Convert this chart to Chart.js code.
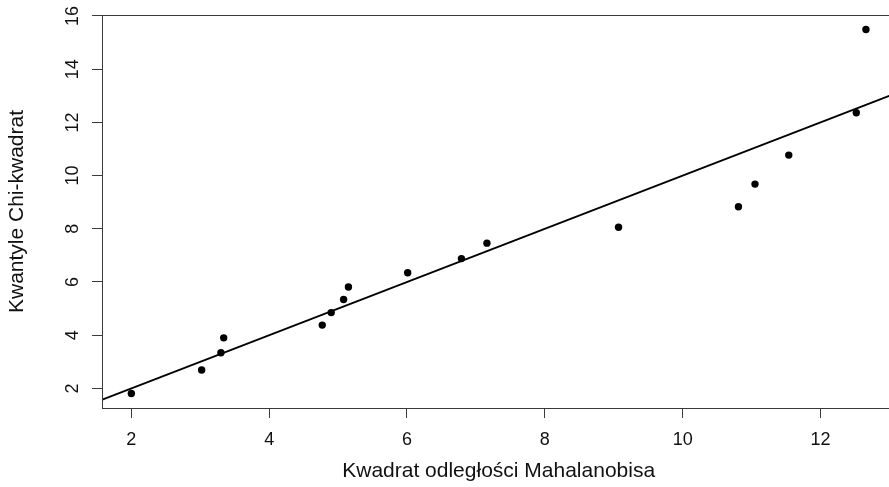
<!DOCTYPE html>
<html>
<head>
<meta charset="utf-8">
<script src="https://cdn.jsdelivr.net/npm/chart.js@4.4.1/dist/chart.umd.min.js"></script>
<style>
  html, body { margin: 0; padding: 0; background: #fff; overflow: hidden; }
  #wrap { width: 889px; height: 487px; overflow: hidden; position: relative; }
  canvas { display: block; }
</style>
</head>
<body>
<div id="wrap"><canvas id="c" width="899" height="487"></canvas></div>
<script>
// Squared Mahalanobis distances (x) and chi-square quantiles (y)
const mahalanobisSq = [2.00, 3.02, 3.30, 3.34, 4.77, 4.90, 5.08, 5.15, 6.01, 6.79, 7.16, 9.07, 10.81, 11.05, 11.54, 12.52, 12.66];
const chiSqQuantiles = [1.81, 2.69, 3.34, 3.90, 4.38, 4.85, 5.34, 5.81, 6.35, 6.88, 7.46, 8.06, 8.83, 9.68, 10.77, 12.36, 15.49];
// Reference line y = x (abline(0, 1)), endpoints beyond the plot, clipped
const refLineX = [0, 15];
const refLineY = [0, 15];
// Axis ranges and tick labels
const xRange = [1.574, 13.086];
const yRange = [1.263, 16.037];
const xTicks = [2, 4, 6, 8, 10, 12];
const yTicks = [2, 4, 6, 8, 10, 12, 14, 16];
const xTitle = 'Kwadrat odległości Mahalanobisa';
const yTitle = 'Kwantyle Chi-kwadrat';

const points = mahalanobisSq.map((x, i) => ({ x: x, y: chiSqQuantiles[i] }));
const line = refLineX.map((x, i) => ({ x: x, y: refLineY[i] }));

const FONT = "'Liberation Sans', Arial, sans-serif";

const boxPlugin = {
  id: 'box',
  afterDraw(chart) {
    const { ctx, chartArea: a } = chart;
    ctx.save();
    ctx.strokeStyle = '#3a3a3a';
    ctx.lineWidth = 1;
    ctx.strokeRect(Math.round(a.left) + 0.5, Math.round(a.top) + 0.5,
                   Math.round(a.right - a.left), Math.round(a.bottom - a.top));
    ctx.restore();
  }
};

new Chart(document.getElementById('c'), {
  data: {
    datasets: [
      {
        type: 'line',
        data: line,
        borderColor: '#000',
        borderWidth: 2,
        pointRadius: 0,
        fill: false,
        order: 2
      },
      {
        type: 'scatter',
        data: points,
        backgroundColor: '#000',
        borderWidth: 0,
        pointRadius: 3.7,
        pointHoverRadius: 3.7,
        order: 1
      }
    ]
  },
  options: {
    responsive: false,
    devicePixelRatio: 1,
    animation: false,
    events: [],
    layout: { padding: { top: 15, right: 1, left: 0, bottom: 0 } },
    plugins: { legend: { display: false }, tooltip: { enabled: false } },
    scales: {
      x: {
        type: 'linear',
        position: 'bottom',
        min: xRange[0],
        max: xRange[1],
        afterBuildTicks(scale) { scale.ticks = xTicks.map(v => ({ value: v })); },
        afterFit(scale) { scale.height = 79; scale.paddingLeft = 0; scale.paddingRight = 0; },
        grid: { drawOnChartArea: false, drawTicks: true, tickLength: 10, tickColor: '#3a3a3a', tickWidth: 1 },
        border: { display: false },
        ticks: { color: '#111', font: { family: FONT, size: 18 }, padding: 11, maxRotation: 0, autoSkip: false },
        title: { display: true, text: xTitle, color: '#111', font: { family: FONT, size: 21, lineHeight: 1.2 }, padding: { top: 0, bottom: 3 } }
      },
      y: {
        type: 'linear',
        position: 'left',
        min: yRange[0],
        max: yRange[1],
        afterBuildTicks(scale) { scale.ticks = yTicks.map(v => ({ value: v })); },
        afterFit(scale) { scale.width = 102; scale.paddingTop = 0; scale.paddingBottom = 0; },
        grid: { drawOnChartArea: false, drawTicks: true, tickLength: 10, tickColor: '#3a3a3a', tickWidth: 1 },
        border: { display: false },
        ticks: { color: '#111', font: { family: FONT, size: 18 }, padding: 9, minRotation: 90, maxRotation: 90, crossAlign: 'center', autoSkip: false },
        title: { display: true, text: yTitle, color: '#111', font: { family: FONT, size: 21, lineHeight: 1.2 }, padding: { top: 5, bottom: 0 } }
      }
    }
  },
  plugins: [boxPlugin]
});
</script>
</body>
</html>
